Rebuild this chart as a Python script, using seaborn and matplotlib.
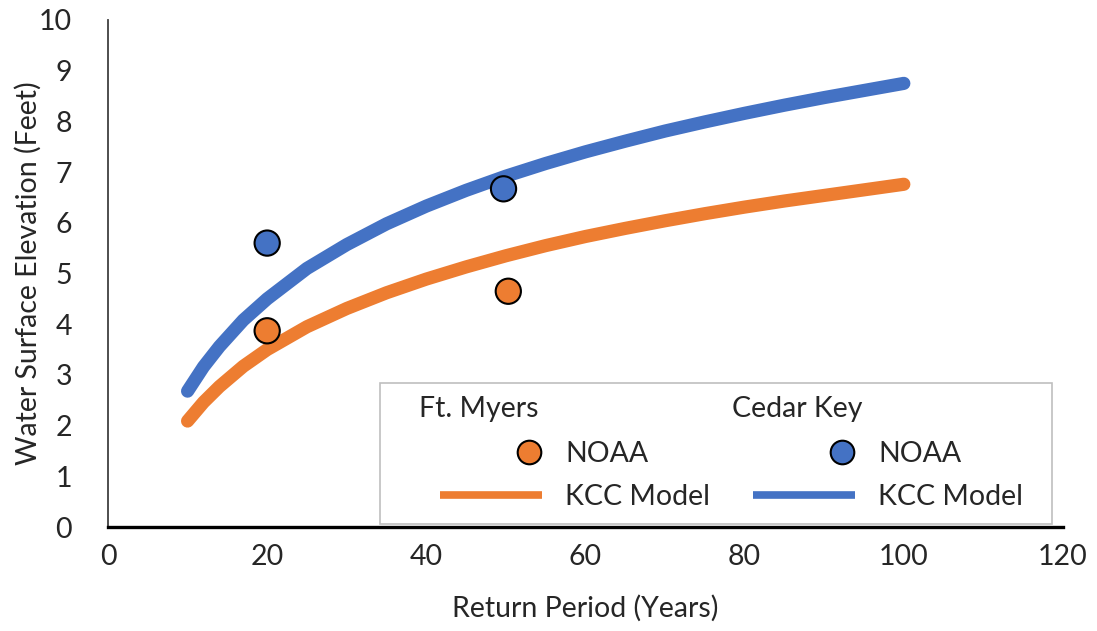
import numpy as np
import pandas as pd
import seaborn as sns
import matplotlib
matplotlib.use('Agg')
import matplotlib.pyplot as plt
from matplotlib.lines import Line2D
from matplotlib.text import Text
from matplotlib.legend_handler import HandlerBase

# values
years = [10, 12, 14, 17, 20, 25, 30, 35, 40, 45, 50, 55, 60, 65, 70, 75, 80, 85, 90, 95, 100]
kcc_cedar_key = [2.68, 3.16, 3.56, 4.08, 4.50, 5.10, 5.57, 5.98, 6.33, 6.64, 6.92,
                 7.17, 7.40, 7.61, 7.81, 7.99, 8.16, 8.32, 8.47, 8.61, 8.75]
kcc_ft_myers = [2.09, 2.46, 2.77, 3.17, 3.50, 3.95, 4.31, 4.62, 4.89, 5.13, 5.35,
                5.55, 5.73, 5.89, 6.04, 6.18, 6.31, 6.43, 6.54, 6.65, 6.76]

noaa_ft_myers_years = [20, 50.3]
noaa_ft_myers = [3.87, 4.65]
noaa_cedar_key_years = [20, 49.7]
noaa_cedar_key = [5.60, 6.67]

x_ticks = [0, 20, 40, 60, 80, 100, 120]
y_ticks = list(range(0, 11))

ORANGE = '#ED7D31'
BLUE = '#4472C4'
FONT = ['Lato', 'DejaVu Sans']
FS = 20.5


class TitleEntry:
    def __init__(self, text):
        self.text = text


class TitleHandler(HandlerBase):
    # group title drawn inside the handle slot, a bit right of its left edge
    def create_artists(self, legend, orig_handle, xdescent, ydescent, width, height,
                       fontsize, trans):
        t = Text(-xdescent + 18, (height - ydescent) / 2, orig_handle.text,
                 fontsize=fontsize, va='center', ha='left', family=FONT)
        t.set_transform(trans)
        return [t]


class RightHandler(HandlerBase):
    # Excel-like: marker / short line sit at the right end of a wide slot
    def create_artists(self, legend, orig_handle, xdescent, ydescent, width, height,
                       fontsize, trans):
        y = (height - ydescent) / 2
        right = width - xdescent
        if orig_handle.get_marker() not in ('None', None, ''):
            xdata = [right - 9.4]
        else:
            xdata = [right - 74, right]
        line = Line2D(xdata, [y] * len(xdata))
        self.update_prop(line, orig_handle, legend)
        line.set_transform(trans)
        return [line]


sns.set_style('white')
plt.rcParams['font.family'] = FONT

df_curves = pd.concat([
    pd.DataFrame({'year': years, 'wse': kcc_ft_myers, 'site': 'Ft. Myers'}),
    pd.DataFrame({'year': years, 'wse': kcc_cedar_key, 'site': 'Cedar Key'}),
])
df_noaa = pd.concat([
    pd.DataFrame({'year': noaa_ft_myers_years, 'wse': noaa_ft_myers, 'site': 'Ft. Myers'}),
    pd.DataFrame({'year': noaa_cedar_key_years, 'wse': noaa_cedar_key, 'site': 'Cedar Key'}),
])
palette = {'Ft. Myers': ORANGE, 'Cedar Key': BLUE}

fig = plt.figure(figsize=(10.97, 6.31), dpi=100)
ax = fig.add_axes([108 / 1097, 104 / 631, 955 / 1097, 507 / 631])

sns.lineplot(data=df_curves, x='year', y='wse', hue='site', palette=palette,
             linewidth=9.5, solid_capstyle='round', legend=False, ax=ax, zorder=2)
sns.scatterplot(data=df_noaa, x='year', y='wse', hue='site', palette=palette,
                s=330, edgecolor='black', linewidth=1.5, legend=False, ax=ax, zorder=3)

ax.set_xlim(0, 120)
ax.set_ylim(0, 10)
ax.set_xticks(x_ticks)
ax.set_yticks(y_ticks)
ax.tick_params(axis='x', length=0, pad=12, labelsize=FS)
ax.tick_params(axis='y', length=0, pad=26, labelsize=FS)
ax.set_xlabel('Return Period (Years)', fontsize=FS, labelpad=18)
ax.set_ylabel('Water Surface Elevation (Feet)', fontsize=FS, labelpad=-2)

for side in ['top', 'right']:
    ax.spines[side].set_visible(False)
ax.spines['left'].set_color('#404040')
ax.spines['left'].set_linewidth(1.3)
ax.spines['bottom'].set_color('black')
ax.spines['bottom'].set_linewidth(2.4)

handles = [
    TitleEntry('Ft. Myers'),
    Line2D([], [], linestyle='none', marker='o', markersize=17, markerfacecolor=ORANGE,
           markeredgecolor='black', markeredgewidth=1.5),
    Line2D([], [], color=ORANGE, linewidth=5.5, solid_capstyle='butt'),
    TitleEntry('Cedar Key'),
    Line2D([], [], linestyle='none', marker='o', markersize=17, markerfacecolor=BLUE,
           markeredgecolor='black', markeredgewidth=1.5),
    Line2D([], [], color=BLUE, linewidth=5.5, solid_capstyle='butt'),
]
# trailing spaces keep the empty strip on the right of the box, as in the original
labels = [' ', 'NOAA', 'KCC Model', ' ', 'NOAA', 'KCC Model  ']
handler_map = {TitleEntry: TitleHandler(), Line2D: RightHandler()}

leg = ax.legend(handles, labels, handler_map=handler_map, ncol=2, fontsize=FS,
                loc='lower left', bbox_to_anchor=(380 / 1097, 107 / 631, 672 / 1097, 0),
                bbox_transform=fig.transFigure, mode='expand',
                handlelength=5.2, handletextpad=0.8, labelspacing=0.6,
                borderpad=0.5, borderaxespad=0, columnspacing=0.5,
                frameon=True, fancybox=False, framealpha=1, edgecolor='#BFBFBF')
leg.get_frame().set_linewidth(1.2)
leg.set_zorder(5)

fig.savefig('out.png', dpi=100)
